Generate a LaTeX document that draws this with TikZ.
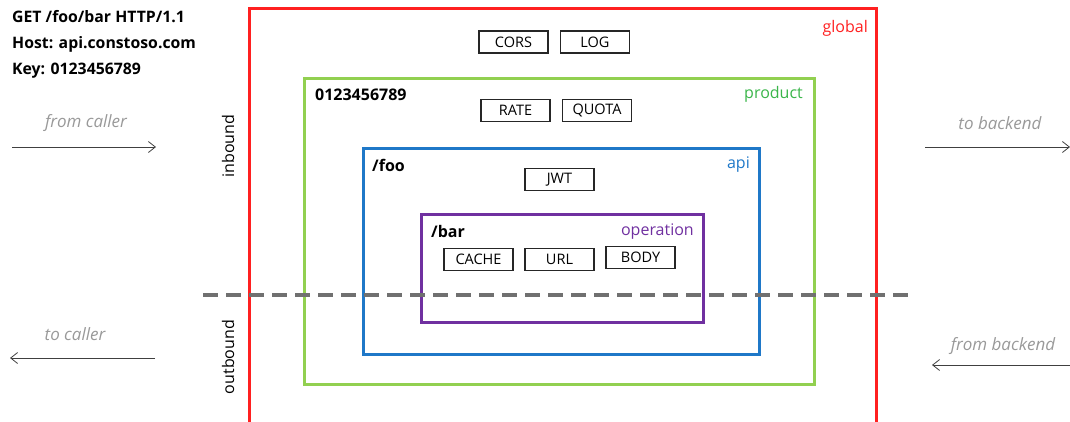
\documentclass[tikz,border=0pt]{standalone}
\usepackage{fontspec}
\setmainfont{Open Sans}
\usetikzlibrary{arrows.meta}
\definecolor{cglobal}{HTML}{FF2020}
\definecolor{cproduct}{HTML}{92D050}
\definecolor{cproducttext}{HTML}{3AB54A}
\definecolor{capi}{HTML}{1F78C8}
\definecolor{cop}{HTML}{7030A0}
\definecolor{cdash}{HTML}{707070}
\definecolor{cital}{HTML}{999999}
\definecolor{carrow}{HTML}{404040}
\tikzset{
  grp/.style={draw=#1, line width=3pt},
  pol/.style={draw=black!85, line width=1.4pt, fill=white, minimum width=69pt, minimum height=22pt, inner sep=0pt, font=\fontsize{14.5}{16}\selectfont},
  grplabel/.style={text=#1, font=\fontsize{16}{19}\selectfont, anchor=north east, inner sep=0pt},
  scopename/.style={font=\fontsize{16}{19}\selectfont\bfseries, anchor=north west, inner sep=0pt},
  head/.style={font=\fontsize{15.8}{19}\selectfont\bfseries, anchor=west, inner sep=0pt},
  flow/.style={text=cital, font=\fontsize{17}{20}\selectfont\itshape, inner sep=0pt},
  flowarrow/.style={draw=carrow, line width=0.8pt, -{Straight Barb[length=7pt,width=11pt]}},
  dir/.style={font=\fontsize{16}{19}\selectfont, rotate=90, inner sep=0pt},
}
\begin{document}
\begin{tikzpicture}[x=1pt,y=-1pt]
\useasboundingbox (0,0) rectangle (1070,421);
% groups
\draw[grp=cglobal] (249,440) -- (249,8) -- (876,8) -- (876,440);
\draw[grp=cproduct] (304,78) rectangle (814,384);
\draw[grp=capi] (363,148) rectangle (759,354);
\draw[grp=cop] (421,214) rectangle (703,322);
% dashed separator
\coordinate (dashL) at (203,295);
\coordinate (dashR) at (913,295);
\draw[cdash, line width=3.6pt, dash pattern=on 15pt off 8pt] (dashL) -- (dashR);
% group labels
\node[grplabel=cglobal] (lglobal) at (868,20.5) {global};
\node[grplabel=cproducttext] (lproduct) at (803,86) {product};
\node[grplabel=capi] (lapi) at (750,157) {api};
\node[grplabel=cop] (lop) at (694,223.5) {operation};
\node[scopename] (sprod) at (315,89) {0123456789};
\node[scopename] (sapi) at (372,159.5) {/foo};
\node[scopename] (sop) at (431,225.5) {/bar};
% policies
\node[pol] (cors) at (513.5,42) {CORS};
\node[pol] (log) at (595,42) {LOG};
\node[pol] (rate) at (515.5,110.5) {RATE};
\node[pol] (quota) at (597,110.5) {QUOTA};
\node[pol] (jwt) at (559.5,179.5) {JWT};
\node[pol] (cache) at (478.5,259.5) {CACHE};
\node[pol] (url) at (559.5,259.5) {URL};
\node[pol] (body) at (640.5,257.5) {BODY};
% header
\node[head] (h1) at (12,17) {GET /foo/bar HTTP/1.1};
\node[head] (h2) at (12,44) {Host: api.constoso.com};
\node[head] (h3) at (12,71) {Key: 0123456789};
% directions
\node[dir] (inb) at (228,146) {inbound};
\node[dir] (outb) at (228,357) {outbound};
% flows
\coordinate (fcA) at (12,147); \coordinate (fcB) at (156,147);
\node[flow] (lfc) at (86,123) {from caller};
\draw[flowarrow] (fcA) -- (fcB);
\coordinate (tcA) at (155,358); \coordinate (tcB) at (10,358);
\node[flow] (ltc) at (75,334) {to caller};
\draw[flowarrow] (tcA) -- (tcB);
\coordinate (tbA) at (925,147); \coordinate (tbB) at (1070,147);
\node[flow] (ltb) at (1000,123) {to backend};
\draw[flowarrow] (tbA) -- (tbB);
\coordinate (fbA) at (1070,365); \coordinate (fbB) at (932,365);
\node[flow] (lfb) at (1003,346) {from backend};
\draw[flowarrow] (fbA) -- (fbB);
\end{tikzpicture}
\end{document}
